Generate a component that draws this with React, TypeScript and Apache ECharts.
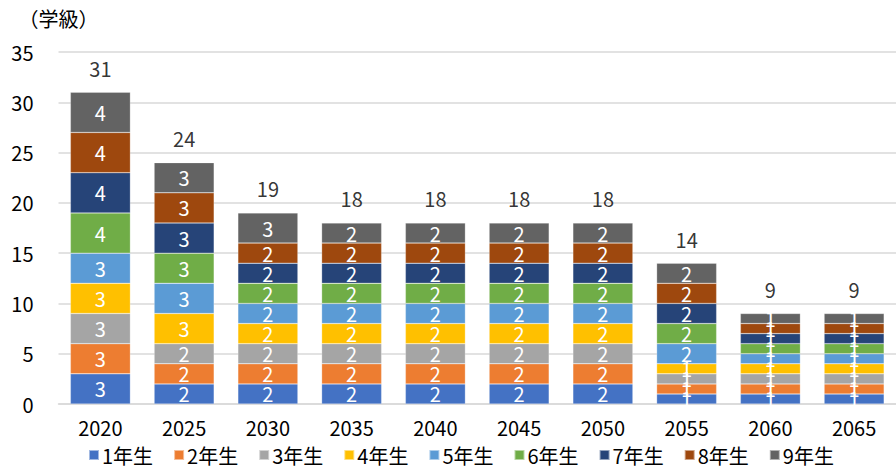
import React, { useEffect, useRef } from "react";
import * as echarts from "echarts";

const categories = ["2020", "2025", "2030", "2035", "2040", "2045", "2050", "2055", "2060", "2065"];
const seriesNames = ["1年生", "2年生", "3年生", "4年生", "5年生", "6年生", "7年生", "8年生", "9年生"];
const grade1 = [3, 2, 2, 2, 2, 2, 2, 1, 1, 1];
const grade2 = [3, 2, 2, 2, 2, 2, 2, 1, 1, 1];
const grade3 = [3, 2, 2, 2, 2, 2, 2, 1, 1, 1];
const grade4 = [3, 3, 2, 2, 2, 2, 2, 1, 1, 1];
const grade5 = [3, 3, 2, 2, 2, 2, 2, 2, 1, 1];
const grade6 = [4, 3, 2, 2, 2, 2, 2, 2, 1, 1];
const grade7 = [4, 3, 2, 2, 2, 2, 2, 2, 1, 1];
const grade8 = [4, 3, 2, 2, 2, 2, 2, 2, 1, 1];
const grade9 = [4, 3, 3, 2, 2, 2, 2, 2, 1, 1];
const totals = [31, 24, 19, 18, 18, 18, 18, 14, 9, 9];
const yTicks = [0, 5, 10, 15, 20, 25, 30, 35];
const colors = ["#4472C4", "#ED7D31", "#A5A5A5", "#FFC000", "#5B9BD5", "#70AD47", "#264478", "#9E480E", "#636363"];

const FONT = "'Noto Sans CJK JP', 'Noto Sans', sans-serif";

export default function App() {
  const ref = useRef<HTMLDivElement>(null);
  useEffect(() => {
    if (!ref.current) return;
    const chart = echarts.init(ref.current, null, { renderer: "svg" });
    const grades = [grade1, grade2, grade3, grade4, grade5, grade6, grade7, grade8, grade9];
    const series: any[] = grades.map((d, i) => ({
      name: seriesNames[i],
      type: "bar",
      stack: "total",
      barWidth: 60,
      data: d,
      itemStyle: { color: colors[i], borderColor: "rgba(255,255,255,0.5)", borderWidth: 0.5 },
      label: {
        show: true,
        position: "inside",
        color: "#ffffff",
        fontSize: 20,
        fontFamily: FONT,
      },
    }));
    series.push({
      name: "合計",
      type: "scatter",
      data: categories.map((c, i) => [c, totals[i]]),
      symbolSize: 0,
      silent: true,
      label: {
        show: true,
        position: "top",
        distance: 14,
        color: "#000000",
        fontSize: 20,
        fontFamily: FONT,
        formatter: (p: any) => String(p.value[1]),
      },
    });
    chart.setOption({
      animation: false,
      color: colors,
      grid: { left: 58.5, right: -12.5, top: 52, bottom: 66, containLabel: false },
      legend: {
        data: seriesNames,
        bottom: 0,
        left: 83,
        itemWidth: 10,
        itemHeight: 10,
        itemGap: 20,
        icon: "rect",
        textStyle: { fontSize: 20, fontFamily: FONT, color: "#000", padding: [0, 0, 0, -2] },
      },
      xAxis: {
        type: "category",
        data: categories,
        axisLine: { lineStyle: { color: "#d9d9d9", width: 1.5 } },
        axisTick: { show: false },
        axisLabel: { color: "#000", fontSize: 20, fontFamily: FONT, margin: 13 },
      },
      yAxis: {
        type: "value",
        min: yTicks[0],
        max: yTicks[yTicks.length - 1],
        interval: 5,
        name: "（学級）",
        nameLocation: "end",
        nameGap: 24,
        nameTextStyle: { color: "#000", fontSize: 20, fontFamily: FONT, align: "left", padding: [0, 0, 0, -40] },
        axisLine: { show: false },
        axisTick: { show: false },
        splitLine: { lineStyle: { color: "#d9d9d9", width: 1.5 } },
        axisLabel: { color: "#000", fontSize: 20, fontFamily: FONT, margin: 25 },
      },
      series,
    });
    return () => chart.dispose();
  }, []);
  return <div ref={ref} style={{ position: "absolute", left: 0, top: 0, width: 896, height: 470 }} />;
}
